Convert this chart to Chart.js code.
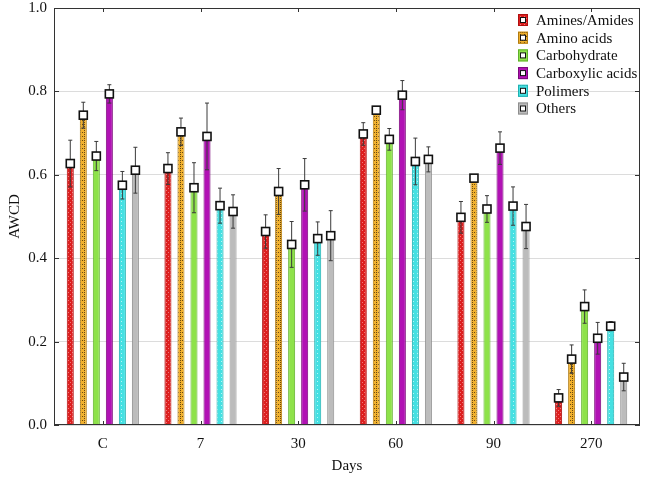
<!DOCTYPE html>
<html>
<head>
<meta charset="utf-8">
<script src="https://cdn.jsdelivr.net/npm/chart.js@4"></script>
<style>
  body { margin: 0; background: #fff; }
  #wrap { width: 646px; height: 477px; }
</style>
</head>
<body>
<div id="wrap"><canvas id="chart"></canvas></div>
<script>
// data
const days = ['C', '7', '30', '60', '90', '270'];
const seriesNames = ['Amines/Amides', 'Amino acids', 'Carbohydrate', 'Carboxylic acids', 'Polimers', 'Others'];
const aminesVals = [0.627, 0.615, 0.464, 0.698, 0.498, 0.065];
const aminoVals = [0.743, 0.703, 0.560, 0.755, 0.592, 0.158];
const carboVals = [0.645, 0.569, 0.433, 0.685, 0.518, 0.284];
const carboxVals = [0.794, 0.692, 0.576, 0.791, 0.664, 0.208];
const polimVals = [0.575, 0.526, 0.447, 0.632, 0.525, 0.237];
const otherVals = [0.611, 0.512, 0.454, 0.637, 0.476, 0.115];
const aminesErr = [0.056, 0.038, 0.040, 0.027, 0.038, 0.020];
const aminoErr = [0.031, 0.033, 0.055, 0.006, 0.005, 0.034];
const carboErr = [0.035, 0.060, 0.055, 0.026, 0.032, 0.040];
const carboxErr = [0.022, 0.080, 0.063, 0.035, 0.039, 0.038];
const polimErr = [0.033, 0.042, 0.040, 0.056, 0.046, 0.011];
const otherErr = [0.055, 0.040, 0.060, 0.030, 0.053, 0.033];
const yTicks = [0, 0.2, 0.4, 0.6, 0.8, 1.0];

const FONT = "'Liberation Serif', 'DejaVu Serif', serif";

function makePattern(bg, dot, kind) {
    const c = document.createElement('canvas');
    c.width = 4; c.height = 4;
    const g = c.getContext('2d');
    g.fillStyle = bg;
    g.fillRect(0, 0, 4, 4);
    g.fillStyle = dot;
    if (kind === 'x') {
        g.fillRect(0, 0, 1, 1);
        g.fillRect(2, 2, 1, 1);
    } else if (kind === 'grid') {
        g.fillRect(0, 0, 1, 1);
        g.fillRect(2, 0, 1, 1);
        g.fillRect(0, 2, 1, 1);
    } else if (kind === 'dot') {
        g.fillRect(1, 1, 1, 1);
    }
    return document.createElement('canvas').getContext('2d').createPattern(c, 'repeat');
}

const fills = [
    makePattern('#dd1f1f', '#f07a7a', 'x'),
    makePattern('#f1b12e', '#6b4a10', 'grid'),
    '#8ee24a',
    '#b112b4',
    makePattern('#45e0e2', '#b8f6f6', 'dot'),
    '#bcbcbc'
];
const edges = ['#b01010', '#b07a10', '#5fb02a', '#7a087a', '#1fb0b0', '#8e8e8e'];
const allVals = [aminesVals, aminoVals, carboVals, carboxVals, polimVals, otherVals];
const allErr = [aminesErr, aminoErr, carboErr, carboxErr, polimErr, otherErr];

const datasets = seriesNames.map((name, i) => ({
    label: name,
    data: allVals[i],
    errors: allErr[i],
    backgroundColor: fills[i],
    borderColor: edges[i],
    borderWidth: 1,
    categoryPercentage: 0.8,
    barPercentage: 0.54
}));

const decorPlugin = {
    id: 'decor',
    afterDatasetsDraw(chart) {
        const ctx = chart.ctx;
        const y = chart.scales.y;
        const x = chart.scales.x;
        const a = chart.chartArea;
        ctx.save();
        // error bars
        chart.data.datasets.forEach((ds, di) => {
            const meta = chart.getDatasetMeta(di);
            meta.data.forEach((bar, i) => {
                const v = ds.data[i], e = ds.errors[i];
                const top = y.getPixelForValue(v + e);
                const bot = y.getPixelForValue(v - e);
                ctx.strokeStyle = '#3a3a3a';
                ctx.lineWidth = 1;
                ctx.beginPath();
                ctx.moveTo(bar.x, top); ctx.lineTo(bar.x, bot);
                ctx.moveTo(bar.x - 2, top); ctx.lineTo(bar.x + 2, top);
                ctx.moveTo(bar.x - 2, bot); ctx.lineTo(bar.x + 2, bot);
                ctx.stroke();
            });
        });
        // square markers at bar tops
        chart.data.datasets.forEach((ds, di) => {
            const meta = chart.getDatasetMeta(di);
            meta.data.forEach((bar) => {
                ctx.fillStyle = '#ffffff';
                ctx.strokeStyle = '#111';
                ctx.lineWidth = 1.6;
                ctx.fillRect(bar.x - 4, bar.y - 4, 8, 8);
                ctx.strokeRect(bar.x - 4, bar.y - 4, 8, 8);
            });
        });
        // frame and inward ticks
        ctx.strokeStyle = '#333';
        ctx.lineWidth = 1;
        ctx.strokeRect(a.left + 0.5, a.top + 0.5, a.right - a.left - 1, a.bottom - a.top - 1);
        ctx.beginPath();
        yTicks.forEach(t => {
            const py = Math.round(y.getPixelForValue(t)) + 0.5;
            ctx.moveTo(a.left, py); ctx.lineTo(a.left + 5, py);
            ctx.moveTo(a.right, py); ctx.lineTo(a.right - 5, py);
        });
        days.forEach((d, i) => {
            const px = Math.round(x.getPixelForValue(i)) + 0.5;
            ctx.moveTo(px, a.bottom); ctx.lineTo(px, a.bottom - 4);
            ctx.moveTo(px, a.top); ctx.lineTo(px, a.top + 4);
        });
        ctx.stroke();
        // legend inside the plot, top right
        ctx.font = '15px ' + FONT;
        ctx.textBaseline = 'middle';
        ctx.textAlign = 'left';
        seriesNames.forEach((name, i) => {
            const ly = 20 + i * 17.7;
            const bx = 518;
            ctx.fillStyle = fills[i];
            ctx.fillRect(bx, ly - 6, 10, 12);
            ctx.strokeStyle = edges[i];
            ctx.lineWidth = 1;
            ctx.strokeRect(bx + 0.5, ly - 5.5, 9, 11);
            ctx.fillStyle = '#fff';
            ctx.strokeStyle = '#111';
            ctx.fillRect(bx + 2.5, ly - 2.5, 5, 5);
            ctx.strokeRect(bx + 2.5, ly - 2.5, 5, 5);
            ctx.fillStyle = '#111';
            ctx.fillText(name, 536, ly + 1);
        });
        ctx.restore();
    }
};

new Chart(document.getElementById('chart'), {
    type: 'bar',
    data: { labels: days, datasets: datasets },
    options: {
        responsive: true,
        maintainAspectRatio: false,
        animation: false,
        layout: { autoPadding: false, padding: { top: 8, right: 6, left: 6, bottom: 0 } },
        plugins: {
            legend: { display: false },
            tooltip: { enabled: false }
        },
        scales: {
            x: {
                grid: { display: false },
                border: { display: false },
                ticks: { color: '#111', font: { family: FONT, size: 15 }, padding: 2 },
                title: { display: true, text: 'Days', color: '#111', font: { family: FONT, size: 15 }, padding: { top: 4, bottom: 2 } },
                afterFit(scale) { scale.height = 52; scale.paddingLeft = 0; scale.paddingRight = 0; }
            },
            y: {
                min: 0,
                max: 1,
                grid: { color: '#dcdcdc', drawTicks: false },
                border: { display: false },
                ticks: {
                    stepSize: 0.2,
                    color: '#111',
                    font: { family: FONT, size: 15 },
                    padding: 7,
                    callback: v => v.toFixed(1)
                },
                title: { display: true, text: 'AWCD', color: '#111', font: { family: FONT, size: 15 }, padding: 0 },
                afterFit(scale) { scale.width = 48; scale.paddingTop = 0; scale.paddingBottom = 0; }
            }
        }
    },
    plugins: [decorPlugin]
});
</script>
</body>
</html>
